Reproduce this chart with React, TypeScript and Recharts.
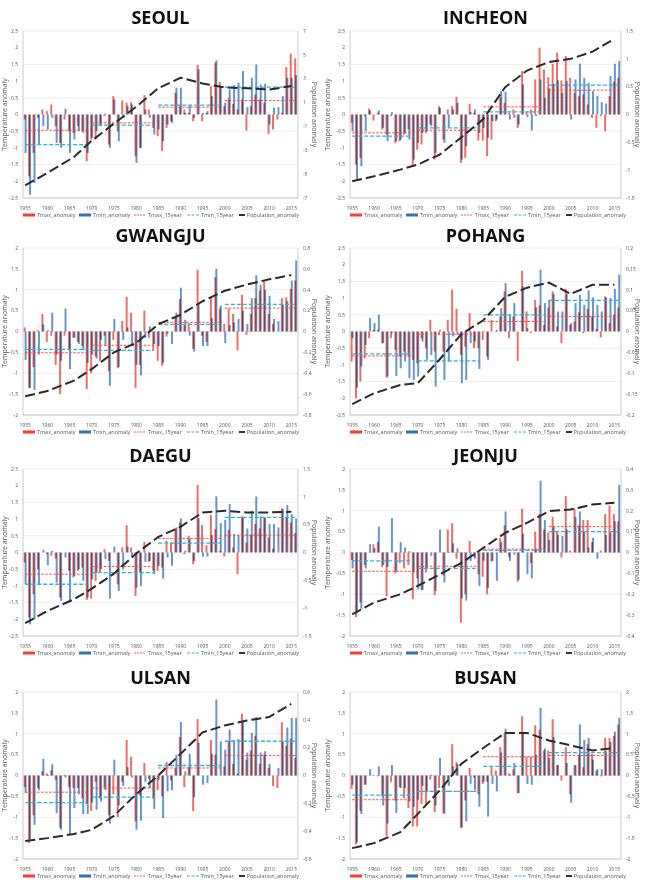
import { Bar, CartesianGrid, ComposedChart, Legend, Line, XAxis, YAxis } from 'recharts';

// years on the category axis, 1955-2016
const YEARS = Array.from({ length: 62 }, (_, i) => 1955 + i);
// census years of the population anomaly line
const POP_YEARS = [1955, 1960, 1966, 1970, 1975, 1980, 1985, 1990, 1995, 2000, 2005, 2010, 2015];
// the four 15-year windows
const PERIOD_STARTS = [1955, 1970, 1985, 2000];

const LEFT_25 = [-2.5, -2, -1.5, -1, -0.5, 0, 0.5, 1, 1.5, 2, 2.5];
const LEFT_2 = [-2, -1.5, -1, -0.5, 0, 0.5, 1, 1.5, 2];

const SEOUL_TMAX = [
  -0.15, -1.85, -1.15, -0.1, 0.15, 0.1, 0.3, -0.35, -0.85, -0.15,
  -0.5, -0.55, -0.35, -0.5, -1.4, -0.75, -0.75, -0.3, -0.05, -0.9,
  0.55, -0.5, 0.42, 0.35, 0.37, -1.25, -1.0, 0.58, 0.15, -0.4,
  -0.65, -1.1, -0.4, -0.2, 0.65, 0.25, 0.15, 0.05, -0.2, 1.48,
  -0.2, 0.05, 0.85, 1.55, 0.98, 0.25, 0.48, 0.32, 0.15, 0.45,
  -0.48, 0.25, 0.6, 0.45, 0.35, -0.58, -0.45, -0.15, 0.05, 1.42,
  1.82, 1.68,
];
const SEOUL_TMIN = [
  -1.15, -2.4, -2.05, -0.9, -0.35, -0.45, -0.1, -0.85, -1.0, 0.17,
  -1.15, -0.75, -0.5, -0.55, -1.15, -0.7, -0.5, -0.35, 0.03, -1.0,
  0.45, -0.8, -0.1, 0.25, 0.3, -1.45, -1.0, 0.15, -0.1, -0.6,
  -0.45, -0.8, -0.3, -0.25, 0.8, 0.8, 0.05, 0.28, -0.1, 1.35,
  0.05, 0.1, 0.55, 1.62, 0.85, 0.35, 0.75, 0.88, 0.95, 1.3,
  0.22, 1.1, 1.5, 0.9, 0.92, -0.3, 0.2, 0.22, 0.55, 1.1,
  1.1, 1.18,
];
const SEOUL_TMAX15 = [-0.47, -0.25, 0.22, 0.42];
const SEOUL_TMIN15 = [-0.9, -0.32, 0.28, 0.82];
const SEOUL_POP = [-5.94, -4.9, -3.56, -2.2, -0.76, 0.64, 2.2, 3.08, 2.6, 2.27, 2.2, 2.1, 2.38];

const INCHEON_TMAX = [
  -0.25, -1.5, -1.3, -0.05, 0.18, -0.18, 0.05, -0.45, -0.6, -0.05,
  -0.85, -0.8, -0.6, -0.45, -1.5, -1.05, -0.9, -0.55, -0.3, -1.35,
  0.25, -0.75, 0.15, 0.25, 0.52, -1.45, -1.3, 0.32, 0.05, -0.78,
  -0.78, -1.25, -0.75, -0.2, 0.5, 0.35, 0.05, 0.15, -0.4, 1.3,
  0.1, 0.15, 1.05, 2.0, 1.35, 1.12, 1.52, 1.85, 1.02, 1.75,
  1.1, 0.65, 0.55, 0.6, 0.3, -0.1, -0.4, -0.05, -0.5, 0.55,
  0.98, 1.1,
];
const INCHEON_TMIN = [
  -0.5, -1.95, -1.55, -0.5, 0.12, 0.0, 0.12, -0.4, -0.8, 0.07,
  -0.8, -0.75, -0.55, -0.75, -1.35, -0.85, -0.55, -0.5, -0.35, -1.15,
  0.2, -0.85, -0.4, 0.15, 0.35, -1.35, -0.95, 0.08, 0.15, -0.55,
  -0.4, -0.7, -0.2, -0.15, 0.7, 0.68, -0.15, -0.1, -0.3, 0.9,
  -0.08, -0.48, -0.05, 1.05, 0.5, 0.78, 0.92, 1.02, 0.65, 1.0,
  -0.15, 1.05, 1.52, 1.1, 0.95, 0.7, 0.55, 0.37, 0.33, 1.15,
  1.52, 1.6,
];
const INCHEON_TMAX15 = [-0.55, -0.47, 0.23, 0.73];
const INCHEON_TMIN15 = [-0.65, -0.4, 0.08, 0.88];
const INCHEON_POP = [-1.2, -1.11, -0.99, -0.9, -0.72, -0.41, -0.08, 0.49, 0.79, 0.94, 1.0, 1.13, 1.36];

const GWANGJU_TMAX = [
  0.1, -1.35, -0.85, 0.03, 0.42, -0.25, -0.1, -0.8, -1.5, -0.1,
  -0.45, -0.15, -0.25, -0.35, -1.38, -1.0, -0.6, -0.7, -0.1, -0.95,
  -0.2, -0.88, 0.25, 0.83, 0.45, -1.35, -0.8, 0.5, -0.15, -0.45,
  -0.7, -0.82, -0.12, 0.0, 0.35, 0.78, 0.15, 0.2, -0.42, 1.48,
  -0.1, -0.25, 0.8, 1.3, 0.55, 0.18, 0.55, 0.42, -0.45, 0.88,
  -0.08, 0.42, 0.8, 0.98, 1.2, 0.42, 0.18, 0.0, 0.8, 0.82,
  1.02, 1.22,
];
const GWANGJU_TMIN = [
  -0.68, -1.35, -1.4, -0.55, 0.17, 0.03, 0.45, -0.55, -0.7, 0.55,
  -0.9, -0.15, -0.3, -0.45, -0.75, -0.55, -0.65, -0.2, -0.35, -1.3,
  0.3, -0.85, -0.2, 0.1, -0.35, -0.8, -1.05, -0.15, 0.12, -0.3,
  -0.35, -0.75, -0.05, -0.3, 0.45, 1.05, 0.28, -0.1, -0.48, 0.65,
  -0.35, -0.35, 0.32, 1.5, 0.62, -0.28, 0.15, 0.22, 0.3, 0.5,
  0.18, 0.8, 1.35, 1.12, 1.0, 0.85, 0.3, 0.25, 0.65, 0.72,
  1.22, 1.7,
];
const GWANGJU_TMAX15 = [-0.51, -0.33, 0.22, 0.56];
const GWANGJU_TMIN15 = [-0.43, -0.45, 0.17, 0.65];
const GWANGJU_POP = [-0.62, -0.57, -0.47, -0.36, -0.2, -0.11, 0.07, 0.16, 0.29, 0.39, 0.45, 0.5, 0.54];

const POHANG_TMAX = [
  -0.9, -2.0, -1.5, -0.8, -0.2, 0.05, 0.05, -0.35, -1.38, -0.2,
  -0.55, -0.75, -0.6, -0.75, -0.85, -0.95, -0.2, -0.5, 0.35, -0.6,
  -0.1, -0.6, 0.35, 1.25, 0.68, -0.7, -0.45, 0.55, -0.5, -0.5,
  -0.25, -0.75, 0.35, -0.02, 0.45, 1.2, -0.2, 0.45, -0.88, 1.82,
  0.6, -0.05, 0.95, 0.78, 0.2, 0.72, 1.2, 0.15, -0.35, 1.28,
  0.2, 0.3, 0.58, -0.05, 0.68, 0.45, 0.08, -0.18, 1.05, 0.25,
  0.5, 0.72,
];
const POHANG_TMIN = [
  -0.2, -1.68, -1.05, -0.4, 0.4, 0.25, 0.5, -0.35, -1.35, -0.05,
  -1.33, -1.1, -0.9, -1.4, -1.45, -1.35, -0.3, -0.85, -0.7, -1.65,
  0.05, -1.45, -0.9, -0.15, -0.1, -1.55, -1.45, -0.35, -0.3, -1.12,
  0.02, -0.85, 0.0, 0.05, 0.7, 1.45, 0.5, 0.85, 0.0, 1.35,
  0.1, 0.0, 0.72, 1.85, 0.85, 0.95, 1.12, 0.6, 0.6, 1.12,
  0.25, 0.85, 1.1, 0.8, 1.23, 1.02, 0.8, 0.6, 1.02, 1.0,
  1.28, 1.7,
];
const POHANG_TMAX15 = [-0.73, -0.08, 0.3, 0.45];
const POHANG_TMIN15 = [-0.67, -0.88, 0.5, 0.93];
const POHANG_POP = [-0.174, -0.148, -0.128, -0.124, -0.067, -0.006, 0.027, 0.083, 0.105, 0.117, 0.09, 0.112, 0.112];

const DAEGU_TMAX = [
  -0.3, -1.95, -1.25, -0.5, 0.0, -0.05, -0.1, -0.18, -1.35, 0.0,
  -0.55, -0.75, -0.55, -0.45, -1.42, -1.38, -0.85, -0.6, 0.1, -0.25,
  0.0, -0.95, 0.15, 0.82, 0.15, -1.3, -0.6, 0.32, -0.28, -0.55,
  -0.55, -0.45, 0.35, 0.3, 0.72, 0.9, -0.05, 0.5, -0.35, 2.02,
  0.82, 0.22, 1.12, 0.7, 0.05, -0.12, 0.68, 0.15, -0.65, 1.08,
  0.3, 0.52, 0.85, 0.72, 1.05, 0.45, 0.12, 0.0, 1.32, 1.05,
  0.9, 0.58,
];
const DAEGU_TMIN = [
  -0.95, -2.15, -2.0, -0.95, 0.08, -0.38, 0.05, -0.9, -1.45, -0.15,
  -1.45, -0.7, -0.5, -0.85, -1.35, -0.8, -0.6, -0.5, -0.2, -1.38,
  0.18, -1.15, -0.5, 0.18, -0.15, -1.05, -1.0, -0.28, -0.25, -0.65,
  -0.4, -0.78, -0.15, -0.4, 0.75, 1.02, 0.05, 0.4, -0.25, 1.02,
  -0.12, -0.12, 0.52, 1.68, 0.88, 0.98, 1.45, 0.55, 0.52, 1.05,
  0.72, 1.25, 1.68, 1.08, 1.05, 0.85, 0.85, 0.75, 1.3, 1.42,
  1.15, 1.02,
];
const DAEGU_TMAX15 = [-0.65, -0.42, 0.42, 0.52];
const DAEGU_TMIN15 = [-0.95, -0.6, 0.28, 1.05];
const DAEGU_POP = [-1.27, -1.05, -0.84, -0.65, -0.38, -0.02, 0.28, 0.46, 0.72, 0.75, 0.72, 0.72, 0.73];

const JEONJU_TMAX = [
  -0.18, -1.55, -1.2, -0.3, 0.0, 0.2, 0.25, -0.35, -1.05, 0.0,
  -0.5, -0.25, -0.38, -0.3, -1.12, -0.62, -0.9, -0.48, 0.0, -1.02,
  0.0, -0.55, 0.55, 0.7, -0.15, -1.68, -1.0, 0.28, -0.1, -0.52,
  -0.58, -1.0, -0.22, 0.0, 0.35, 0.65, -0.1, 0.0, -0.7, 1.05,
  0.0, -0.25, 0.5, 0.92, 0.55, 0.48, 0.85, 0.5, -0.12, 1.35,
  0.05, 1.05, 0.65, 0.78, 0.78, 0.25, 0.0, 0.05, 0.92, 1.12,
  0.92, 0.75,
];
const JEONJU_TMIN = [
  -0.38, -1.45, -1.35, -0.38, 0.2, 0.1, 0.62, -0.3, -0.35, 0.82,
  -0.45, 0.25, 0.12, 0.03, -0.48, -0.88, -0.9, -0.4, -0.08, -0.92,
  0.55, -0.72, 0.02, 0.22, 0.1, -1.1, -1.15, -0.2, -0.15, -0.8,
  -0.2, -0.85, -0.2, -0.68, 0.25, 0.98, -0.2, -0.05, -0.65, 0.45,
  -0.52, -0.62, 0.08, 1.72, 0.78, 0.3, 0.62, 0.42, 0.4, 0.55,
  0.0, 0.85, 0.98, 0.5, 0.12, 0.35, -0.15, 0.0, 0.42, 0.48,
  0.75, 1.62,
];
const JEONJU_TMAX15 = [-0.45, -0.33, 0.08, 0.62];
const JEONJU_TMIN15 = [-0.2, -0.38, 0.05, 0.5];
const JEONJU_POP = [-0.296, -0.24, -0.2, -0.16, -0.105, -0.05, 0.022, 0.094, 0.142, 0.198, 0.206, 0.23, 0.238];

const ULSAN_TMAX = [
  -0.28, -1.62, -0.95, -0.3, 0.1, 0.05, 0.12, -0.1, -1.25, 0.02,
  -0.28, -0.3, -0.3, -0.55, -0.68, -0.85, -0.15, -0.55, -0.3, -0.95,
  -0.45, -1.0, -0.15, 0.85, 0.45, -1.1, -0.48, 0.3, -0.08, -0.55,
  -0.35, -0.5, 0.32, -0.12, 0.18, 0.92, -0.28, 0.2, -0.85, 1.35,
  0.0, 0.0, 0.85, 0.5, 0.0, 0.22, 0.82, 0.28, 0.05, 1.48,
  0.38, 0.6, 0.95, 0.28, 0.5, 0.18, -0.25, -0.3, 1.28, 0.72,
  0.88, 0.42,
];
const ULSAN_TMIN = [
  -0.42, -1.52, -1.18, -0.35, 0.4, 0.02, 0.27, -0.9, -1.3, -0.05,
  -1.4, -0.78, -0.45, -0.92, -0.92, -0.65, -0.82, -0.62, -0.35, -1.15,
  0.38, -0.72, -0.25, 0.2, -0.05, -1.3, -1.08, -0.15, -0.3, -0.8,
  -0.1, -1.02, -0.38, -0.35, 0.5, 1.28, 0.1, 0.52, -0.52, 0.78,
  -0.22, -0.18, 0.52, 1.82, 0.82, 0.62, 1.1, 0.85, 0.87, 1.3,
  0.55, 1.02, 1.4, 0.55, 0.58, 0.28, 0.0, 0.18, 0.82, 1.15,
  1.38, 1.38,
];
const ULSAN_TMAX15 = [-0.4, -0.3, 0.18, 0.48];
const ULSAN_TMIN15 = [-0.65, -0.52, 0.24, 0.82];
const ULSAN_POP = [-0.47, -0.45, -0.42, -0.39, -0.29, -0.135, 0.0, 0.154, 0.31, 0.36, 0.395, 0.42, 0.515];

const BUSAN_TMAX = [
  -0.32, -1.65, -0.85, -0.22, 0.0, 0.02, -0.02, -0.5, -1.45, -0.15,
  -0.6, -0.28, -0.55, -0.78, -1.22, -1.22, -0.68, -0.72, -0.1, -0.88,
  -0.3, -0.9, -0.1, 0.75, 0.32, -1.25, -0.6, 0.18, -0.05, -0.45,
  -0.2, -0.15, 0.2, 0.12, 0.68, 1.02, 0.05, 0.15, -0.42, 1.42,
  0.45, 0.45, 1.2, 1.1, 0.6, 0.6, 1.35, 0.25, -0.12, 0.68,
  -0.45, 0.25, 0.5, 0.2, 0.75, 0.52, 0.12, -0.02, 0.9, 0.9,
  0.95, 1.22,
];
const BUSAN_TMIN = [
  -0.22, -1.6, -0.92, -0.22, 0.15, 0.0, 0.22, -0.72, -1.15, 0.25,
  -0.9, -0.3, -0.3, -0.62, -0.75, -0.58, -0.25, -0.4, 0.02, -0.72,
  0.42, -0.92, -0.25, 0.22, 0.28, -1.25, -1.1, -0.2, -0.35, -0.75,
  -0.15, -0.98, -0.2, -0.38, 0.55, 1.12, 0.02, 0.3, -0.42, 1.0,
  -0.2, -0.22, 0.5, 1.62, 0.65, 0.42, 0.92, 0.25, 0.0, 0.3,
  -0.65, 0.25, 1.22, 0.85, 0.9, 0.38, 0.15, 0.15, 0.58, 0.8,
  1.05, 1.38,
];
const BUSAN_TMAX15 = [-0.58, -0.38, 0.45, 0.48];
const BUSAN_TMIN15 = [-0.47, -0.38, 0.22, 0.55];
const BUSAN_POP = [-1.74, -1.62, -1.36, -0.92, -0.36, 0.28, 0.66, 1.02, 1.02, 0.84, 0.72, 0.6, 0.66];

const STATIONS = [
  { name: 'SEOUL', tmax: SEOUL_TMAX, tmin: SEOUL_TMIN, tmax15: SEOUL_TMAX15, tmin15: SEOUL_TMIN15, pop: SEOUL_POP,
    left: LEFT_25, right: [-7, -5, -3, -1, 1, 3, 5, 7] },
  { name: 'INCHEON', tmax: INCHEON_TMAX, tmin: INCHEON_TMIN, tmax15: INCHEON_TMAX15, tmin15: INCHEON_TMIN15, pop: INCHEON_POP,
    left: LEFT_25, right: [-1.5, -1, -0.5, 0, 0.5, 1, 1.5] },
  { name: 'GWANGJU', tmax: GWANGJU_TMAX, tmin: GWANGJU_TMIN, tmax15: GWANGJU_TMAX15, tmin15: GWANGJU_TMIN15, pop: GWANGJU_POP,
    left: LEFT_2, right: [-0.8, -0.6, -0.4, -0.2, 0, 0.2, 0.4, 0.6, 0.8] },
  { name: 'POHANG', tmax: POHANG_TMAX, tmin: POHANG_TMIN, tmax15: POHANG_TMAX15, tmin15: POHANG_TMIN15, pop: POHANG_POP,
    left: LEFT_25, right: [-0.2, -0.15, -0.1, -0.05, 0, 0.05, 0.1, 0.15, 0.2] },
  { name: 'DAEGU', tmax: DAEGU_TMAX, tmin: DAEGU_TMIN, tmax15: DAEGU_TMAX15, tmin15: DAEGU_TMIN15, pop: DAEGU_POP,
    left: LEFT_25, right: [-1.5, -1, -0.5, 0, 0.5, 1, 1.5] },
  { name: 'JEONJU', tmax: JEONJU_TMAX, tmin: JEONJU_TMIN, tmax15: JEONJU_TMAX15, tmin15: JEONJU_TMIN15, pop: JEONJU_POP,
    left: LEFT_2, right: [-0.4, -0.3, -0.2, -0.1, 0, 0.1, 0.2, 0.3, 0.4] },
  { name: 'ULSAN', tmax: ULSAN_TMAX, tmin: ULSAN_TMIN, tmax15: ULSAN_TMAX15, tmin15: ULSAN_TMIN15, pop: ULSAN_POP,
    left: LEFT_2, right: [-0.6, -0.4, -0.2, 0, 0.2, 0.4, 0.6] },
  { name: 'BUSAN', tmax: BUSAN_TMAX, tmin: BUSAN_TMIN, tmax15: BUSAN_TMAX15, tmin15: BUSAN_TMIN15, pop: BUSAN_POP,
    left: LEFT_2, right: [-2, -1.5, -1, -0.5, 0, 0.5, 1, 1.5, 2] },
];

const RED = '#e8382e';
const BLUE = '#2e6db4';
const CYAN = '#2fb2dc';
const TXT = '#595959';
const FONT = '"Open Sans", "Liberation Sans", sans-serif';

const ROW_TOP = [0, 220, 440, 660];
const TITLE_Y = [17, 15, 15, 17];
const PLOT_TOP = [31, 28, 29, 32];
const PLOT_H = 167;

const periodOf = (year: number) => {
  let p = 0;
  PERIOD_STARTS.forEach((s, i) => { if (year >= s) p = i; });
  return p;
};

const buildRows = (st: any) =>
  YEARS.map((year, i) => {
    const p = periodOf(year);
    const k = POP_YEARS.indexOf(year);
    return {
      year,
      tmax: st.tmax[i],
      tmin: st.tmin[i],
      tmaxA: p % 2 === 0 ? st.tmax15[p] : null,
      tmaxB: p % 2 === 1 ? st.tmax15[p] : null,
      tminA: p % 2 === 0 ? st.tmin15[p] : null,
      tminB: p % 2 === 1 ? st.tmin15[p] : null,
      pop: k >= 0 ? st.pop[k] : null,
    };
  });

const Swatch = ({ kind }: { kind: string }) => {
  if (kind === 'tmax') return <svg width={12} height={4}><rect x={0} y={0.5} width={12} height={3} fill="#ff3b2f" /></svg>;
  if (kind === 'tmin') return <svg width={12} height={4}><rect x={0} y={0.5} width={12} height={3} fill="#2e75b6" /></svg>;
  if (kind === 'tmax15') return <svg width={12} height={4}><line x1={0} y1={2} x2={12} y2={2} stroke="#ff5a50" strokeWidth={1} strokeDasharray="2 1" /></svg>;
  if (kind === 'tmin15') return <svg width={12} height={4}><line x1={0} y1={2} x2={12} y2={2} stroke={CYAN} strokeWidth={1.2} strokeDasharray="3 1.5" /></svg>;
  return <svg width={12} height={4}><line x1={0} y1={2} x2={12} y2={2} stroke="#333" strokeWidth={2} /></svg>;
};

const LEGEND_ITEMS = [
  { kind: 'tmax', label: 'Tmax_anomaly', w: 56 },
  { kind: 'tmin', label: 'Tmin_anomaly', w: 55 },
  { kind: 'tmax15', label: 'Tmax_15year', w: 53 },
  { kind: 'tmin15', label: 'Tmin_15year', w: 52 },
  { kind: 'pop', label: 'Population_anomaly', w: 60 },
];

const makeLegend = (left: number) => () => (
  <div style={{ display: 'flex', paddingLeft: left, height: 12, alignItems: 'center', fontFamily: FONT, fontSize: 5.5, color: TXT }}>
    {LEGEND_ITEMS.map((it) => (
      <div key={it.kind} style={{ width: it.w, display: 'flex', alignItems: 'center', gap: 2 }}>
        <Swatch kind={it.kind} />
        <span>{it.label}</span>
      </div>
    ))}
  </div>
);

const Panel = ({ st, index }: { st: any; index: number }) => {
  const col = index % 2;
  const row = Math.floor(index / 2);
  const leftW = col === 0 ? 23 : 27;
  const rows = buildRows(st);
  const l = st.left;
  const r = st.right;
  const tick = { fontSize: 5, fill: TXT, fontFamily: FONT };
  return (
    <div style={{ position: 'absolute', left: col * 323, top: ROW_TOP[row], width: 323, height: 220 }}>
      <div
        style={{
          position: 'absolute', left: leftW, width: 298 - leftW, top: TITLE_Y[row] - 11, height: 22, lineHeight: '22px',
          textAlign: 'center', fontFamily: FONT, fontWeight: 700, fontSize: 18, color: '#111',
        }}
      >
        {st.name}
      </div>
      <div style={{ position: 'absolute', left: 0, top: PLOT_TOP[row] - 4 }}>
        <ComposedChart
          width={323}
          height={PLOT_H + 4 + 11 + 12}
          data={rows}
          margin={{ top: 4, right: 0, bottom: 0, left: 0 }}
          barCategoryGap="14%"
          barGap={-1}
        >
          <CartesianGrid yAxisId="left" vertical={false} stroke="#e3e3e3" strokeWidth={0.6} />
          <XAxis
            dataKey="year"
            interval={4}
            height={11}
            tick={tick}
            tickLine={false}
            tickMargin={2}
            axisLine={{ stroke: '#bfbfbf', strokeWidth: 0.8 }}
          />
          <YAxis
            yAxisId="left"
            width={leftW}
            domain={[l[0], l[l.length - 1]]}
            ticks={l}
            tick={tick}
            tickLine={false}
            tickSize={3}
            axisLine={{ stroke: '#bfbfbf', strokeWidth: 0.8 }}
            label={{ value: 'Temperature anomaly', angle: -90, position: 'insideLeft', offset: 5, style: { fontSize: 7, fill: TXT, fontFamily: FONT, textAnchor: 'middle' } }}
          />
          <YAxis
            yAxisId="right"
            orientation="right"
            width={25}
            domain={[r[0], r[r.length - 1]]}
            ticks={r}
            tick={tick}
            tickLine={false}
            tickSize={3}
            axisLine={{ stroke: '#bfbfbf', strokeWidth: 0.8 }}
            label={{ value: 'Population anomaly', angle: 90, position: 'insideRight', offset: 9, style: { fontSize: 7, fill: TXT, fontFamily: FONT, textAnchor: 'middle' } }}
          />
          <Legend verticalAlign="bottom" height={12} content={makeLegend(leftW)} />
          <Bar yAxisId="left" dataKey="tmax" fill={RED} fillOpacity={0.72} isAnimationActive={false} />
          <Bar yAxisId="left" dataKey="tmin" fill={BLUE} fillOpacity={0.72} className="bar-tmin" isAnimationActive={false} />
          <Line yAxisId="left" dataKey="tmaxA" stroke="#ff4a40" strokeWidth={1} strokeDasharray="2.5 1.5" dot={false} activeDot={false} isAnimationActive={false} />
          <Line yAxisId="left" dataKey="tmaxB" stroke="#ff4a40" strokeWidth={1} strokeDasharray="2.5 1.5" dot={false} activeDot={false} isAnimationActive={false} />
          <Line yAxisId="left" dataKey="tminA" stroke={CYAN} strokeWidth={1.3} strokeDasharray="4 2" dot={false} activeDot={false} isAnimationActive={false} />
          <Line yAxisId="left" dataKey="tminB" stroke={CYAN} strokeWidth={1.3} strokeDasharray="4 2" dot={false} activeDot={false} isAnimationActive={false} />
          <Line yAxisId="right" dataKey="pop" stroke="#2a2a2a" strokeWidth={2} strokeDasharray="10 4" dot={false} activeDot={false} connectNulls isAnimationActive={false} />
        </ComposedChart>
      </div>
    </div>
  );
}
;

export default function App() {
  return (
    <div style={{ position: 'absolute', left: 0, top: 0, width: 646, height: 883, background: '#fff' }}>
      <style>{'.bar-tmin { mix-blend-mode: multiply; }'}</style>
      {STATIONS.map((st, i) => (
        <Panel key={st.name} st={st} index={i} />
      ))}
    </div>
  );
}
